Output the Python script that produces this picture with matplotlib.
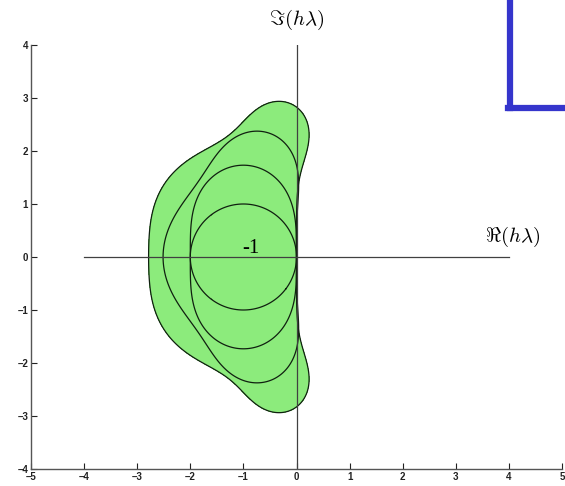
import numpy as np
import matplotlib.pyplot as plt
from math import factorial

# explicit Runge-Kutta methods: stability polynomial R(z) = sum_{k<=p} z^k / k!
orders = [1, 2, 3, 4]
xticks = [-5, -4, -3, -2, -1, 0, 1, 2, 3, 4, 5]
yticks = [-4, -3, -2, -1, 0, 1, 2, 3, 4]

plt.rcParams['mathtext.fontset'] = 'cm'

fig = plt.figure(figsize=(5.65, 4.86), dpi=100)
ax = fig.add_axes([31 / 565, 17 / 486, 531 / 565, 424 / 486])

x = np.linspace(-5, 5, 801)
y = np.linspace(-4, 4, 641)
X, Y = np.meshgrid(x, y)
Z = X + 1j * Y

def stab(p):
    coef = [1.0 / factorial(k) for k in range(p, -1, -1)]
    return np.abs(np.polyval(coef, Z))

# shaded region of the highest order
ax.contourf(X, Y, stab(max(orders)), levels=[0, 1], colors=['#8ceb7c'])
for p in orders:
    ax.contour(X, Y, stab(p), levels=[1], colors='#102010', linewidths=0.9)

ax.plot([-4, 4], [0, 0], color='#404040', lw=0.9)
ax.plot([0, 0], [-4, 4], color='#404040', lw=0.9)

ax.text(0, 4.47, r'$\Im(h\lambda)$', ha='center', va='center', fontsize=15)
ax.text(4.07, 0.38, r'$\Re(h\lambda)$', ha='center', va='center', fontsize=15)
ax.text(-0.85, 0.16, '-1', ha='center', va='center', fontsize=15,
        family='Liberation Serif')

ax.set_xlim(-5, 5)
ax.set_ylim(-4, 4)
ax.set_xticks(xticks)
ax.set_yticks(yticks)
ax.set_xticklabels([str(t).replace('-', '\u2013') for t in xticks])
ax.set_yticklabels([str(t).replace('-', '\u2013') for t in yticks])
ax.tick_params(direction='in', length=4, labelsize=7, colors='#222222', pad=2)
for lab in ax.get_xticklabels() + ax.get_yticklabels():
    lab.set_fontweight('bold')
    lab.set_family('Liberation Sans')
for s in ['top', 'right']:
    ax.spines[s].set_visible(False)
for s in ['left', 'bottom']:
    ax.spines[s].set_color('#555555')
    ax.spines[s].set_linewidth(1.0)
ax.set_facecolor('none')

# blue frame corner in the top right
fig.add_artist(plt.Line2D([510 / 565, 510 / 565], [1, 378 / 486], color='#3535cc', lw=4.5, transform=fig.transFigure))
fig.add_artist(plt.Line2D([508 / 565, 1], [378 / 486, 378 / 486], color='#3535cc', lw=4.5, transform=fig.transFigure))

fig.savefig('out.png', dpi=100)
